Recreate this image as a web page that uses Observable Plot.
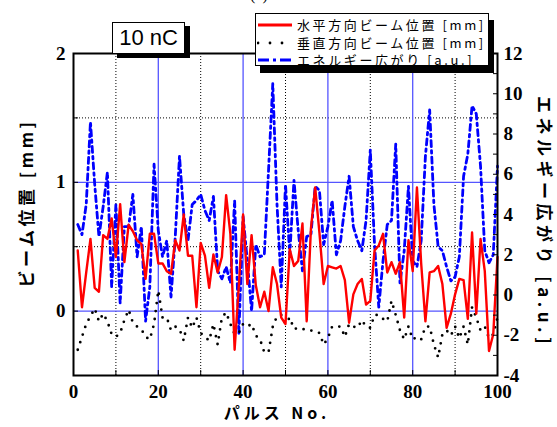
<!DOCTYPE html>
<html><head><meta charset="utf-8">
<script src="https://cdn.jsdelivr.net/npm/d3@7"></script>
<script src="https://cdn.jsdelivr.net/npm/@observablehq/plot@0.6"></script>
<style>
html,body{margin:0;padding:0;background:#fff;}
#wrap{position:relative;width:557px;height:427px;overflow:hidden;}
#wrap svg{position:absolute;left:0;top:0;}
.ov{position:absolute;white-space:nowrap;color:#000;}
.box{position:absolute;background:#fff;border:1.5px solid #000;box-sizing:border-box;}
.cjk{font-family:"Noto Sans CJK JP","Noto Sans",sans-serif;}
</style></head><body><div id="wrap"></div>
<script>
const pulses = d3.range(1, 101);
const horiz = [0.47,0.03,0.30,0.56,0.18,0.15,0.59,0.56,0.72,0.42,
 0.83,0.38,0.67,0.62,0.55,0.52,0.25,0.60,0.60,0.37,
 0.37,0.31,0.29,0.55,0.47,0.75,0.43,0.43,0.03,0.53,
 0.43,0.18,0.44,0.30,0.42,0.90,0.60,-0.30,0.20,0.75,
 0.21,0.59,0.20,0.03,0.15,0.00,0.34,0.21,-0.05,-0.10,
 0.48,0.35,0.39,0.68,-0.08,0.64,0.96,0.61,0.21,0.35,
 0.34,0.33,0.35,0.24,-0.09,0.13,0.21,0.25,0.05,0.08,
 0.47,0.51,0.60,0.30,0.38,0.29,0.38,-0.05,0.55,0.31,
 0.96,0.37,-0.08,0.30,0.31,0.35,0.21,-0.13,-0.02,0.13,
 0.25,0.24,-0.06,0.61,-0.02,0.56,0.31,-0.31,-0.18,0.42];
const vert = [-0.30,-0.20,-0.10,-0.04,0.02,-0.08,-0.02,-0.08,-0.18,-0.20,
 -0.17,-0.07,0.01,-0.09,-0.12,-0.14,-0.20,-0.22,-0.10,0.16,
 -0.05,-0.05,-0.15,-0.12,-0.14,-0.23,-0.05,-0.13,-0.05,-0.17,
 -0.20,-0.23,-0.10,-0.26,-0.05,-0.01,-0.10,-0.18,-0.17,-0.10,
 -0.12,-0.10,-0.19,-0.22,-0.32,-0.32,-0.12,-0.04,-0.03,-0.10,
 -0.05,-0.14,-0.13,-0.14,-0.14,-0.15,-0.16,-0.17,-0.26,-0.21,
 -0.12,-0.12,-0.12,-0.20,-0.10,-0.12,-0.13,-0.07,-0.12,-0.13,
 -0.03,-0.03,-0.06,-0.08,0.08,-0.03,-0.15,-0.22,-0.12,-0.22,
 -0.20,-0.22,-0.12,-0.12,-0.26,-0.36,-0.18,-0.15,-0.19,-0.12,
 -0.21,-0.12,-0.26,0.03,-0.05,-0.15,-0.12,-0.21,-0.18,-0.05];
const energy = [3.5,3.0,4.5,8.6,5.5,2.9,4.4,6.1,0.4,4.5,
 -0.4,3.4,3.4,5.0,1.9,3.4,-1.3,0.4,6.5,3.2,
 1.9,2.7,-0.1,2.9,6.9,4.0,2.7,4.5,4.7,5.0,
 4.2,3.7,4.9,1.2,0.8,1.4,0.6,4.7,-1.9,3.9,
 1.7,-0.8,2.5,1.9,2.0,6.2,10.5,4.5,0.4,5.5,
 2.0,5.7,3.2,1.2,2.9,3.0,5.4,5.2,2.5,3.4,
 4.7,2.0,2.7,4.4,5.9,3.4,2.7,2.2,3.7,7.2,
 2.5,-0.6,1.7,3.5,3.7,7.5,0.6,2.2,5.4,1.7,
 1.4,2.7,6.9,9.2,4.5,2.4,2.2,1.4,0.7,0.9,
 1.9,5.9,7.0,9.4,9.0,6.4,2.2,1.6,2.0,6.4];

const xTicks = [0, 20, 40, 60, 80, 100];
const xMinor = [0, 10, 20, 30, 40, 50, 60, 70, 80, 90, 100];
const leftTicks = [0, 1, 2];
const leftMinor = [-0.5, 0, 0.5, 1, 1.5, 2];
const rightTicks = [-4, -2, 0, 2, 4, 6, 8, 10, 12];
const rightMinor = d3.range(-4, 13);
const dottedX = [10, 30, 50, 70, 90];
const blueX = [20, 40, 60, 80];
const dottedY = [0.5, 1.5];
const blueY = [0, 1];
const leftDomain = [-0.5, 2];
const rightDomain = [-4, 12];
const legendLabels = ["水平方向ビーム位置 [mm]", "垂直方向ビーム位置 [mm]", "エネルギー広がり [a.u.]"];

// map right-axis (a.u.) values onto the left (mm) scale
const toMM = au => leftDomain[0] + (au - rightDomain[0]) * (leftDomain[1] - leftDomain[0]) / (rightDomain[1] - rightDomain[0]);
const toAU = mm => rightDomain[0] + (mm - leftDomain[0]) * (rightDomain[1] - rightDomain[0]) / (leftDomain[1] - leftDomain[0]);

const rows = pulses.map((p, i) => ({p, h: horiz[i], v: vert[i], e: toMM(energy[i])}));

const blank = () => "";
const chart = Plot.plot({
  width: 557, height: 427,
  marginLeft: 73, marginRight: 60, marginTop: 53, marginBottom: 52,
  x: {domain: [0, 100], axis: null},
  y: {domain: leftDomain, axis: null},
  style: {fontFamily: "'Liberation Serif', 'Times New Roman', serif", fontWeight: "bold", fontSize: "19px", background: "transparent", color: "#000"},
  marks: [
    Plot.ruleX(dottedX, {stroke: "#000", strokeWidth: 1, strokeDasharray: "1,2"}),
    Plot.ruleY(dottedY, {stroke: "#000", strokeWidth: 1, strokeDasharray: "1,2"}),
    Plot.ruleX(blueX, {stroke: "#5555ff", strokeWidth: 1.3}),
    Plot.ruleY(blueY, {stroke: "#5555ff", strokeWidth: 1.3}),
    Plot.line(rows, {x: "p", y: "e", stroke: "#0000ff", strokeWidth: 2.8, strokeDasharray: "6,4,2.5,4"}),
    Plot.line(rows, {x: "p", y: "v", stroke: "#000", strokeWidth: 2.8, strokeDasharray: "0,8", strokeLinecap: "round"}),
    Plot.line(rows, {x: "p", y: "h", stroke: "#ff0000", strokeWidth: 2.4}),
    Plot.frame({stroke: "#000", strokeWidth: 2}),
    Plot.axisX(xTicks, {anchor: "bottom", tickSize: 0, tickPadding: 9, label: null, tickFormat: d => String(d)}),
    Plot.axisX(xMinor, {anchor: "bottom", tickSize: -5, tickPadding: 0, label: null, tickFormat: blank}),
    Plot.axisY(leftTicks, {anchor: "left", tickSize: 0, tickPadding: 8, label: null, tickFormat: d => String(d)}),
    Plot.axisY(leftMinor, {anchor: "left", tickSize: -5, tickPadding: 0, label: null, tickFormat: blank}),
    Plot.axisY(rightTicks.map(toMM), {anchor: "right", tickSize: 0, tickPadding: 6, label: null, tickFormat: d => String(Math.round(toAU(d)))}),
    Plot.axisY(rightMinor.map(toMM), {anchor: "right", tickSize: -5, tickPadding: 0, label: null, tickFormat: blank})
  ]
});

const wrap = document.getElementById("wrap");
wrap.appendChild(chart);

function add(html) { wrap.insertAdjacentHTML("beforeend", html); }

// panel label (cut by the top edge, as in the reference)
add(`<div class="ov" style="left:250px;top:-14px;font:16px 'Liberation Serif',serif;">(a)</div>`);
// 10 nC box
add(`<div class="box" style="left:112px;top:22px;width:73px;height:32px;box-shadow:5px 4px 0 #000;font:22px 'Liberation Sans',Arial,sans-serif;text-align:center;line-height:29px;">10 nC</div>`);

// legend
const legendStyles = [
  {stroke: "#ff0000", dash: "none", cap: "butt"},
  {stroke: "#000", dash: "0,12", cap: "round"},
  {stroke: "#0000ff", dash: "11,4,3,4", cap: "butt"}
];
let leg = `<div class="box" style="left:255px;top:13px;width:234px;height:53px;box-shadow:5px 7px 0 #000;">`;
legendLabels.forEach((lab, i) => {
  const st = legendStyles[i];
  const cy = 11 + i * 17.5;
  leg += `<svg style="position:absolute;left:1px;top:${cy - 4}px" width="36" height="8"><line x1="1" x2="35" y1="4" y2="4" stroke="${st.stroke}" stroke-width="2.8" stroke-dasharray="${st.dash}" stroke-linecap="${st.cap}"/></svg>`;
  leg += `<div class="ov cjk" style="left:41px;top:${cy - 10}px;font-size:13px;line-height:20px;letter-spacing:2.6px;">${lab}</div>`;
});
leg += `</div>`;
add(leg);

// axis titles
add(`<div class="ov cjk" style="left:25px;top:203px;transform:translate(-50%,-50%) rotate(-90deg);font-size:17px;line-height:1;font-weight:700;letter-spacing:3.5px;">ビーム位置 [mm]</div>`);
add(`<div class="ov cjk" style="left:545px;top:222px;transform:translate(-50%,-50%) rotate(90deg);font-size:17px;line-height:1;font-weight:700;letter-spacing:4.5px;">エネルギー広がり [a.u.]</div>`);
add(`<div class="ov cjk" style="left:277px;top:412px;transform:translate(-50%,-50%);font-size:16px;line-height:1;font-weight:700;letter-spacing:4px;">パルス No.</div>`);
</script>
</body></html>
